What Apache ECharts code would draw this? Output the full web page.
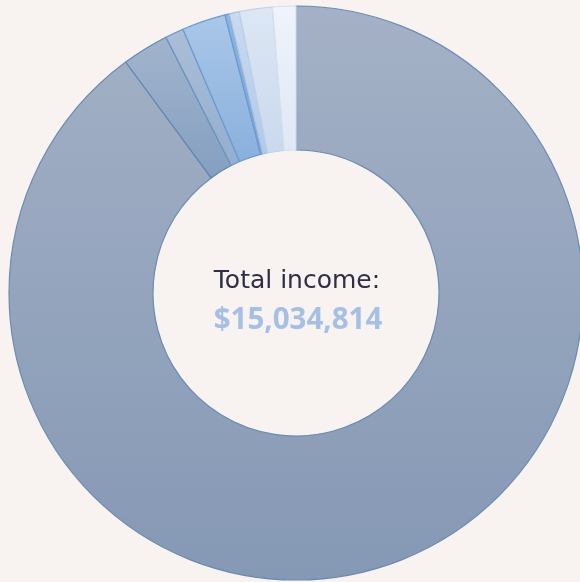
<!DOCTYPE html>
<html>
<head>
<meta charset="utf-8">
<script src="https://cdn.jsdelivr.net/npm/echarts@6/dist/echarts.min.js"></script>
<style>
html,body{margin:0;padding:0;background:#f8f3f0;}
#c{width:580px;height:582px;}
</style>
</head>
<body>
<div id="c"></div>
<script>
var categories = ['Main income', 'Source A', 'Source B', 'Source C', 'Source D', 'Source E', 'Source F', 'Source G'];
var values = [13514627, 394664, 156613, 370859, 36752, 85615, 278144, 197540];
var totalLabel = 'Total income:';
var totalValue = '$15,034,814';

var topColors = ['#a4b1c6', '#a2b4cc', '#abbed7', '#aac7e9', '#8fb4df', '#cadaef', '#dde7f4', '#eff3fa'];
var bottomColors = ['#8598b4', '#849fc1', '#93aed1', '#89b0dc', '#7aa5d8', '#b1c9e9', '#cad9ee', '#e0e8f5'];
var borderColors = ['#6a8cb2', '#5f87b2', '#6b94c0', '#6b9bd0', '#6b9bd0', '#a9c2e3', '#bfd1ea', '#d3e0f1'];

var chart = echarts.init(document.getElementById('c'), null, {renderer: 'canvas'});
var data = categories.map(function (n, i) {
  return {
    name: n,
    value: values[i],
    itemStyle: {
      color: new echarts.graphic.LinearGradient(0, 0, 0, 1, [
        {offset: 0, color: topColors[i]},
        {offset: 1, color: bottomColors[i]}
      ]),
      borderColor: borderColors[i],
      borderWidth: 1.2
    }
  };
});
chart.setOption({
  backgroundColor: '#f8f3f0',
  animation: false,
  series: [{
    type: 'pie',
    center: [296, 293],
    radius: [143, 287],
    startAngle: 90,
    clockwise: true,
    label: {show: false},
    labelLine: {show: false},
    emphasis: {disabled: true},
    data: data
  }],
  graphic: [
    {type: 'text', x: 297, y: 281, style: {text: totalLabel, x: 0, y: 0, align: 'center', verticalAlign: 'middle', fill: '#2e2e45', font: '400 25px "DejaVu Sans", sans-serif'}},
    {type: 'text', x: 298, y: 321, style: {text: totalValue, x: 0, y: 0, align: 'center', verticalAlign: 'middle', fill: '#a6bfe4', font: '700 29.5px "Open Sans", sans-serif'}}
  ]
});
</script>
</body>
</html>
